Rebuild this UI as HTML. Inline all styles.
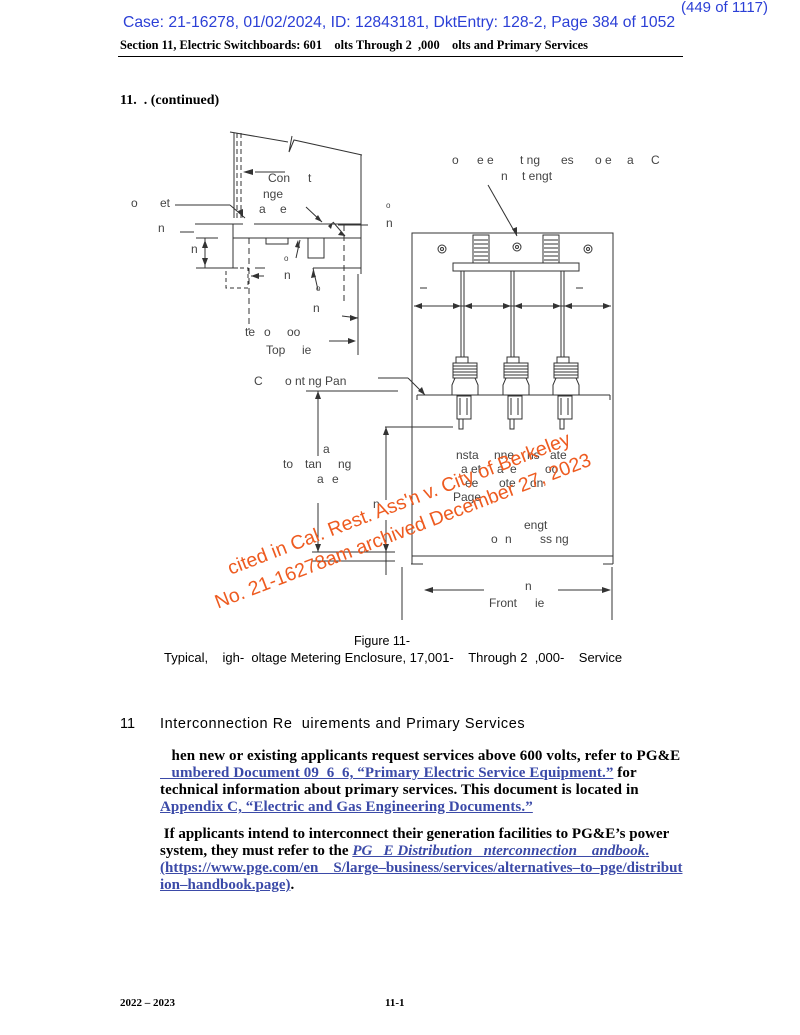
<!DOCTYPE html>
<html><head><meta charset="utf-8"><style>
body{margin:0;background:#fff;}
.p{position:relative;width:800px;height:1035px;overflow:hidden;font-family:"Liberation Sans",sans-serif;}
.t{position:absolute;white-space:nowrap;}
.serif{font-family:"Liberation Serif",serif;}
a{color:#3b4aa8;text-decoration:underline;}
</style></head><body><div class="p">
<div class="t" style="left:123px;top:14px;font-size:15.7px;color:#2b3fd6;">Case: 21-16278, 01/02/2024, ID: 12843181, DktEntry: 128-2, Page 384 of 1052</div>
<div class="t" style="left:681px;top:-1px;font-size:15px;color:#2b3fd6;">(449 of 1117)</div>
<div class="t serif" style="left:120px;top:38px;font-size:12.4px;font-weight:bold;">Section 11, Electric Switchboards: 601&nbsp;&nbsp;&nbsp;&nbsp;olts Through 2&nbsp;&nbsp;,000&nbsp;&nbsp;&nbsp;&nbsp;olts and Primary Services</div>
<div style="position:absolute;left:118px;top:56px;width:565px;border-top:1px solid #000;"></div>
<div class="t serif" style="left:120px;top:93px;font-size:14px;font-weight:bold;">11.&nbsp;&nbsp;. (continued)</div>

<svg style="position:absolute;left:0;top:0" width="800" height="1035" font-family="Liberation Sans" font-size="12" fill="#444">
<g stroke="#333" stroke-width="1" fill="none">
<path d="M230 132 L288 142 M292 136 L289 152 L294 140 L362 155"/>
<line x1="234" y1="133" x2="234" y2="218"/>
<line x1="237" y1="133" x2="237" y2="218" stroke-dasharray="5,3"/>
<line x1="241" y1="133" x2="241" y2="218" stroke-dasharray="5,3"/>
<line x1="361" y1="155" x2="361" y2="274"/>
<line x1="195" y1="224" x2="243" y2="224"/>
<line x1="254" y1="224" x2="361" y2="224"/>
<line x1="338" y1="225" x2="368" y2="225"/>
<line x1="233" y1="238" x2="361" y2="238"/>
<line x1="233" y1="224" x2="233" y2="268"/>
<line x1="196" y1="238" x2="218" y2="238"/>
<line x1="196" y1="268" x2="238" y2="268"/>
<line x1="255" y1="268" x2="265" y2="268"/>
<line x1="313" y1="268" x2="361" y2="268"/>
<line x1="205" y1="238" x2="205" y2="268"/>
<rect x="266" y="238" width="22" height="6"/>
<rect x="308" y="238" width="16" height="20"/>
<rect x="226" y="268" width="22" height="20" stroke-dasharray="4,3"/>
<line x1="249" y1="238" x2="249" y2="330" stroke-dasharray="6,4"/>
<line x1="344" y1="225" x2="344" y2="305" stroke-dasharray="6,4"/>
<line x1="358" y1="274" x2="358" y2="355"/>
<line x1="175" y1="205" x2="230" y2="205"/><line x1="230" y1="205" x2="245" y2="218"/>
<line x1="180" y1="232" x2="194" y2="232"/>
<line x1="255" y1="172" x2="285" y2="172"/>
<line x1="306" y1="207" x2="322" y2="222"/>
<line x1="333" y1="222" x2="345" y2="236"/>
<line x1="300" y1="240" x2="296" y2="258"/>
<line x1="313" y1="268" x2="318" y2="290"/>
<line x1="251" y1="276" x2="264" y2="276"/>
<line x1="329" y1="341" x2="352" y2="341"/>
<line x1="342" y1="316" x2="358" y2="318"/>
<rect x="412" y="233" width="201" height="323"/>
<line x1="411" y1="564" x2="423" y2="564"/><line x1="603" y1="564" x2="613" y2="564"/>
<line x1="412" y1="556" x2="412" y2="564"/><line x1="613" y1="556" x2="613" y2="564"/>
<rect x="453" y="263" width="126" height="8"/>
<line x1="461" y1="271" x2="461" y2="357"/><line x1="464" y1="271" x2="464" y2="357"/>
<line x1="511" y1="271" x2="511" y2="357"/><line x1="514" y1="271" x2="514" y2="357"/>
<line x1="561" y1="271" x2="561" y2="357"/><line x1="564" y1="271" x2="564" y2="357"/>
<line x1="414" y1="306" x2="611" y2="306"/>
<line x1="420" y1="288" x2="427" y2="288"/><line x1="576" y1="288" x2="583" y2="288"/>
<line x1="417" y1="395" x2="610" y2="395"/>
<line x1="417" y1="395" x2="417" y2="400"/><line x1="610" y1="395" x2="610" y2="400"/>
<line x1="378" y1="378" x2="408" y2="378"/><line x1="408" y1="378" x2="425" y2="395"/>
<line x1="306" y1="391" x2="398" y2="391"/>
<line x1="318" y1="391" x2="318" y2="456"/><line x1="318" y1="503" x2="318" y2="552"/>
<line x1="385" y1="427" x2="453" y2="427"/>
<line x1="386" y1="427" x2="386" y2="500"/><line x1="386" y1="520" x2="386" y2="575"/>
<line x1="312" y1="552" x2="395" y2="552"/>
<line x1="312" y1="561" x2="395" y2="561"/>
<line x1="402" y1="567" x2="402" y2="620"/><line x1="612" y1="567" x2="612" y2="620"/>
<line x1="425" y1="590" x2="484" y2="590"/><line x1="558" y1="590" x2="610" y2="590"/>
<line x1="488" y1="185" x2="517" y2="236"/>
</g>
<g fill="#333">
<g stroke="#333" fill="none">
<rect x="473" y="235" width="16" height="28"/><rect x="543" y="235" width="16" height="28"/>
<circle cx="442" cy="249" r="4"/><circle cx="517" cy="247" r="4"/><circle cx="588" cy="249" r="4"/>
<circle cx="442" cy="249" r="1.5"/><circle cx="517" cy="247" r="1.5"/><circle cx="588" cy="249" r="1.5"/>
</g>
<g stroke="#333"><path d="M474 240h14M474 244h14M474 248h14M474 252h14M474 256h14M474 260h14M544 240h14M544 244h14M544 248h14M544 252h14M544 256h14M544 260h14"/></g>
<g stroke="#333" fill="none">
<g id="ins"><rect x="456" y="357" width="12" height="6"/><rect x="453" y="363" width="24" height="15"/><path d="M453 366h24M453 369h24M453 372h24M453 375h24"/><path d="M455 378 L452 385 V395 H478 V385 L475 378"/><rect x="457" y="396" width="14" height="23"/><path d="M460 398v17M467 398v17"/><rect x="459" y="419" width="4" height="10"/></g>
<use href="#ins" x="51"/><use href="#ins" x="101"/>
</g>
<path d="M243 172l10-3v6z"/><path d="M243 218l-5-7 5-2z"/><path d="M322 222l-7-3 3-4z"/><path d="M345 236l-7 -1 3-4z"/><path d="M333 222l-2 7 -3-3z"/>
<path d="M205 240l-3 8h6z"/><path d="M205 266l-3-8h6z"/><path d="M298 240l-3 7 5 1z"/><path d="M313 270l3 7 -5 1z"/><path d="M251 276l8-3v6z"/><path d="M356 341l-8-3v6z"/><path d="M358 318l-8-3v6z"/>
<path d="M414 306l8-3v6z"/><path d="M461 306l-8-3v6z"/><path d="M464 306l8-3v6z"/><path d="M511 306l-8-3v6z"/><path d="M514 306l8-3v6z"/><path d="M561 306l-8-3v6z"/><path d="M564 306l8-3v6z"/><path d="M611 306l-8-3v6z"/>
<path d="M517 236l-5-7 5-2z"/><path d="M425 395l-7-4 4-4z"/>
<path d="M318 391l-3 8h6z"/><path d="M318 552l-3-8h6z"/><path d="M386 427l-3 8h6z"/><path d="M386 552l-3-8h6z"/>
<path d="M424 590l9-3v6z"/><path d="M611 590l-9-3v6z"/>
</g>
<text x="131" y="207">o</text><text x="160" y="207">et</text>
<text x="158" y="232">n</text><text x="191" y="253">n</text>
<text x="268" y="182">Con</text><text x="308" y="182">t</text>
<text x="263" y="198">nge</text><text x="259" y="213">a</text><text x="280" y="213">e</text>
<text x="386" y="208" font-size="8">o</text><text x="386" y="227">n</text>
<text x="284" y="261" font-size="8">o</text><text x="284" y="279">n</text>
<text x="316" y="291" font-size="8">o</text><text x="313" y="312">n</text>
<text x="245" y="336">te</text><text x="264" y="336">o</text><text x="287" y="336">oo</text>
<text x="266" y="354">Top</text><text x="302" y="354">ie</text>
<text x="452" y="164">o</text><text x="477" y="164">e e</text><text x="520" y="164">t ng</text><text x="561" y="164">es</text><text x="595" y="164">o e</text><text x="627" y="164">a</text><text x="651" y="164">C</text>
<text x="501" y="180">n</text><text x="522" y="180">t engt</text>
<text x="254" y="385">C</text><text x="285" y="385">o nt ng Pan</text>
<text x="323" y="453">a</text><text x="283" y="468">to</text><text x="305" y="468">tan</text><text x="338" y="468">ng</text><text x="317" y="483">a</text><text x="332" y="483">e</text>
<text x="456" y="459">nsta</text><text x="494" y="459">nne</text><text x="527" y="459">ns</text><text x="550" y="459">ate</text>
<text x="461" y="473">a et</text><text x="497" y="473">a</text><text x="510" y="473">e</text><text x="545" y="473">oo</text>
<text x="465" y="487">ee</text><text x="499" y="487">ote</text><text x="530" y="487">on</text>
<text x="453" y="501">Page</text><text x="373" y="508">n</text>
<text x="524" y="529">engt</text><text x="491" y="543">o</text><text x="505" y="543">n</text><text x="540" y="543">ss ng</text>
<text x="525" y="590">n</text><text x="489" y="607">Front</text><text x="535" y="607">ie</text>
<g fill="#ee5b20" font-size="19.5" transform="translate(-26,-30) rotate(-21 410 530)">
<text x="240" y="545">cited in Cal. Rest. Ass'n v. City of Berkeley</text>
<text x="216" y="572">No. 21-16278am archived December 27, 2023</text>
</g>
</svg>

<div class="t" style="left:354px;top:634px;font-size:12.5px;">Figure 11-</div>
<div class="t" style="left:164px;top:650px;font-size:13px;">Typical,&nbsp;&nbsp;&nbsp;&nbsp;igh-&nbsp;&nbsp;oltage Metering Enclosure, 17,001-&nbsp;&nbsp;&nbsp;&nbsp;Through 2&nbsp;&nbsp;,000-&nbsp;&nbsp;&nbsp;&nbsp;Service</div>
<div class="t" style="left:120px;top:716px;font-size:14.5px;">11</div>
<div class="t" style="left:160px;top:716px;font-size:14.5px;letter-spacing:0.6px;">Interconnection Re&nbsp;&nbsp;uirements and Primary Services</div>
<div class="serif" style="position:absolute;left:160px;top:748px;width:580px;font-size:15px;font-weight:bold;line-height:17px;letter-spacing:0.1px;">
&nbsp;&nbsp;&nbsp;hen new or existing applicants request services above 600 volts, refer to PG&amp;E<br><a>&nbsp;&nbsp;&nbsp;umbered Document 09&nbsp;&nbsp;6&nbsp;&nbsp;6, “Primary Electric Service Equipment.”</a> for<br>technical information about primary services. This document is located in<br><a>Appendix C, “Electric and Gas Engineering Documents.”</a></div>
<div class="serif" style="position:absolute;left:160px;top:826px;width:580px;font-size:15px;font-weight:bold;line-height:17px;letter-spacing:0px;">
&nbsp;If applicants intend to interconnect their generation facilities to PG&amp;E’s power<br>system, they must refer to the <a><i>PG&nbsp;&nbsp;&nbsp;E Distribution&nbsp;&nbsp;&nbsp;nterconnection&nbsp;&nbsp;&nbsp;&nbsp;andbook</i>.</a><br><a>(https://www.pge.com/en&nbsp;&nbsp;&nbsp;&nbsp;S/large–business/services/alternatives–to–pge/distribut<br>ion–handbook.page)</a>.</div>
<div class="t serif" style="left:120px;top:997px;font-size:11px;font-weight:bold;">2022 – 2023</div>
<div class="t serif" style="left:385px;top:997px;font-size:11px;font-weight:bold;">11-1</div>
</div></body></html>
